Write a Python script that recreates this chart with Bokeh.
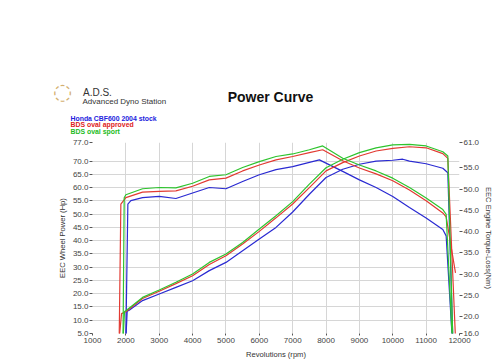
from bokeh.plotting import figure
from bokeh.models import Range1d, LinearAxis, FixedTicker, PrintfTickFormatter, Label
from bokeh.embed import file_html
from bokeh.resources import INLINE

# ---------------- data ----------------
series_names = ["Honda CBF600 2004 stock", "BDS oval approved", "BDS oval sport"]

stock_power_rpm = [2000, 2040, 2100, 2500, 3000, 3500, 4000, 4500, 5000, 5500, 6000, 6500, 7000,
                   7500, 8000, 8500, 9000, 9500, 10000, 10300, 10500, 11000, 11500, 11650, 11800]
stock_power = [3, 13.4, 13.8, 17.4, 19.9, 22.4, 24.9, 28.7, 31.8, 36.2, 40.6, 45.0, 50.8,
               57.5, 63.8, 66.9, 68.8, 70.0, 70.3, 70.7, 70.0, 69.0, 67.3, 65.6, 3]
stock_torque_rpm = [2000, 2060, 2150, 2500, 3000, 3500, 4000, 4500, 5000, 5500, 6000, 6500, 7000,
                    7500, 7800, 8500, 9000, 9500, 10000, 10500, 11000, 11500, 11600, 11780]
stock_torque = [15, 46.5, 47.3, 48.0, 48.3, 47.8, 49.1, 50.4, 50.1, 51.8, 53.4, 54.6, 55.3,
                56.3, 56.9, 54.2, 52.2, 50.4, 48.3, 45.7, 43.2, 40.5, 39.0, 15]

approved_power_rpm = [1800, 1870, 2000, 2500, 3000, 3500, 4000, 4500, 5000, 5500, 6000, 6500, 7000,
                      7500, 8000, 8500, 9000, 9500, 10000, 10500, 11000, 11500, 11650, 11880]
approved_power = [3, 12.5, 13.2, 18.2, 20.9, 23.8, 26.8, 31.0, 34.3, 38.7, 43.5, 48.6, 53.8,
                  60.0, 66.3, 69.4, 71.9, 73.8, 74.8, 75.4, 75.0, 72.8, 71.0, 3]
approved_torque_rpm = [1800, 1850, 2000, 2500, 3000, 3500, 4000, 4500, 5000, 5500, 6000, 6500, 7000,
                       7500, 7900, 8500, 9000, 9500, 10000, 10500, 11000, 11500, 11600, 11880]
approved_torque = [15, 46.5, 48.0, 49.3, 49.5, 49.6, 50.7, 52.2, 52.6, 54.3, 55.7, 56.9, 57.7,
                   58.6, 59.3, 56.7, 55.0, 53.6, 52.0, 49.8, 47.3, 44.4, 43.5, 30.3]

sport_power_rpm = [1915, 1960, 2000, 2500, 3000, 3500, 4000, 4500, 5000, 5500, 6000, 6500, 7000,
                   7500, 8000, 8500, 9000, 9500, 10000, 10500, 11000, 11500, 11650, 11800]
sport_power = [3, 13.3, 13.6, 18.6, 21.4, 24.3, 27.4, 31.8, 35.0, 39.3, 44.4, 49.4, 54.7,
               61.3, 67.5, 70.7, 73.2, 75.0, 76.1, 76.3, 75.7, 73.5, 71.9, 3]
sport_torque_rpm = [1915, 1950, 2000, 2500, 3000, 3500, 4000, 4500, 5000, 5500, 6000, 6500, 7000,
                    7500, 7900, 8500, 9000, 9500, 10000, 10500, 11000, 11500, 11600, 11780]
sport_torque = [15, 48.0, 48.7, 50.1, 50.4, 50.3, 51.4, 53.0, 53.4, 55.1, 56.5, 57.7, 58.3,
                59.3, 60.2, 57.3, 55.7, 54.3, 52.6, 50.4, 47.9, 45.2, 44.1, 15]

x_ticks = [1000, 2000, 3000, 4000, 5000, 6000, 7000, 8000, 9000, 10000, 11000, 12000]
power_ticks = [5, 10, 15, 20, 25, 30, 35, 40, 45, 50, 55, 60, 65, 70, 77]
torque_ticks = [16, 20, 25, 30, 35, 40, 45, 50, 55, 61]

colors = ["#2a2ad2", "#e23a32", "#2ec42e"]
legend_colors = ["#2222dd", "#e02222", "#22bb22"]

# ---------------- layout (pixels) ----------------
W, H = 500, 364
FL, FR, FT, FB = 92, 459, 142, 333          # frame edges
X0, X1, Y0, Y1 = 1000, 12000, 5, 77

p = figure(width=W, height=H, x_range=Range1d(X0, X1), y_range=Range1d(Y0, Y1),
           output_backend="svg", toolbar_location=None,
           min_border_left=FL, min_border_right=W - FR, min_border_top=FT, min_border_bottom=H - FB)
p.extra_y_ranges = {"torque": Range1d(16, 61)}
p.outline_line_color = None


def px_x(px):
    return X0 + (px - FL) * (X1 - X0) / (FR - FL)


def px_y(py):
    return Y0 + (FB - py) * (Y1 - Y0) / (FB - FT)


def add_text(px, py, txt, size, color, bold=False, align="left", font="Liberation Sans"):
    p.add_layout(Label(x=px_x(px), y=px_y(py), text=txt, text_font=font,
                       text_font_size=size, text_color=color,
                       text_font_style="bold" if bold else "normal",
                       text_align=align, text_baseline="middle"), "above")


# header: logo, title, legend (placed in the top border panel so they are not clipped)
add_text(62, 91, "\u25cc", "22px", "#d4b070", align="center", font="DejaVu Sans")
add_text(82.5, 91.5, "A.D.S.", "10px", "#333333")
add_text(82, 100.5, "Advanced Dyno Station", "8px", "#333333")
add_text(270, 96, "Power Curve", "14px", "#111111", bold=True, align="center")
for i, (name, c) in enumerate(zip(series_names, legend_colors)):
    add_text(70, 118 + 6.4 * i, name, "6.9px", c, bold=True)

# axes
p.xaxis.ticker = FixedTicker(ticks=x_ticks)
p.yaxis.ticker = FixedTicker(ticks=power_ticks)
p.yaxis.formatter = PrintfTickFormatter(format="%.1f")
p.xaxis.axis_label = "Revolutions (rpm)"
p.yaxis.axis_label = "EEC Wheel Power (Hp)"

ra = LinearAxis(y_range_name="torque", ticker=FixedTicker(ticks=torque_ticks),
                formatter=PrintfTickFormatter(format="%.1f"),
                axis_label="EEC Engine Torque-Loss(Nm)")
p.add_layout(ra, "right")

for ax in [p.xaxis[0], p.yaxis[0], ra]:
    ax.axis_line_color = None
    ax.major_tick_line_color = "#555555"
    ax.minor_tick_line_color = None
    ax.major_tick_in = 0
    ax.major_tick_out = 3
    ax.major_label_standoff = 1
    ax.major_label_text_font = "Liberation Sans"
    ax.major_label_text_font_size = "8px"
    ax.major_label_text_color = "#444444"
    ax.axis_label_text_font = "Liberation Sans"
    ax.axis_label_text_font_size = "7.6px"
    ax.axis_label_text_font_style = "normal"
    ax.axis_label_text_color = "#333333"
p.xaxis.major_tick_out = 2
p.xaxis.major_label_standoff = 2
p.xaxis.axis_label_standoff = 4
p.yaxis.axis_label_standoff = 3
ra.axis_label_standoff = 2

p.xgrid.ticker = FixedTicker(ticks=x_ticks)
p.ygrid.ticker = FixedTicker(ticks=power_ticks)
p.grid.grid_line_color = "#d6d6d6"
p.grid.grid_line_width = 1

series = [
    (stock_power_rpm, stock_power, stock_torque_rpm, stock_torque),
    (approved_power_rpm, approved_power, approved_torque_rpm, approved_torque),
    (sport_power_rpm, sport_power, sport_torque_rpm, sport_torque),
]
for (prpm, pw, trpm, tq), c in zip(series, colors):
    p.line(prpm, pw, line_color=c, line_width=1.2)
    p.line(trpm, tq, line_color=c, line_width=1.2, y_range_name="torque")

open("out.html", "w").write(file_html(p, INLINE))
